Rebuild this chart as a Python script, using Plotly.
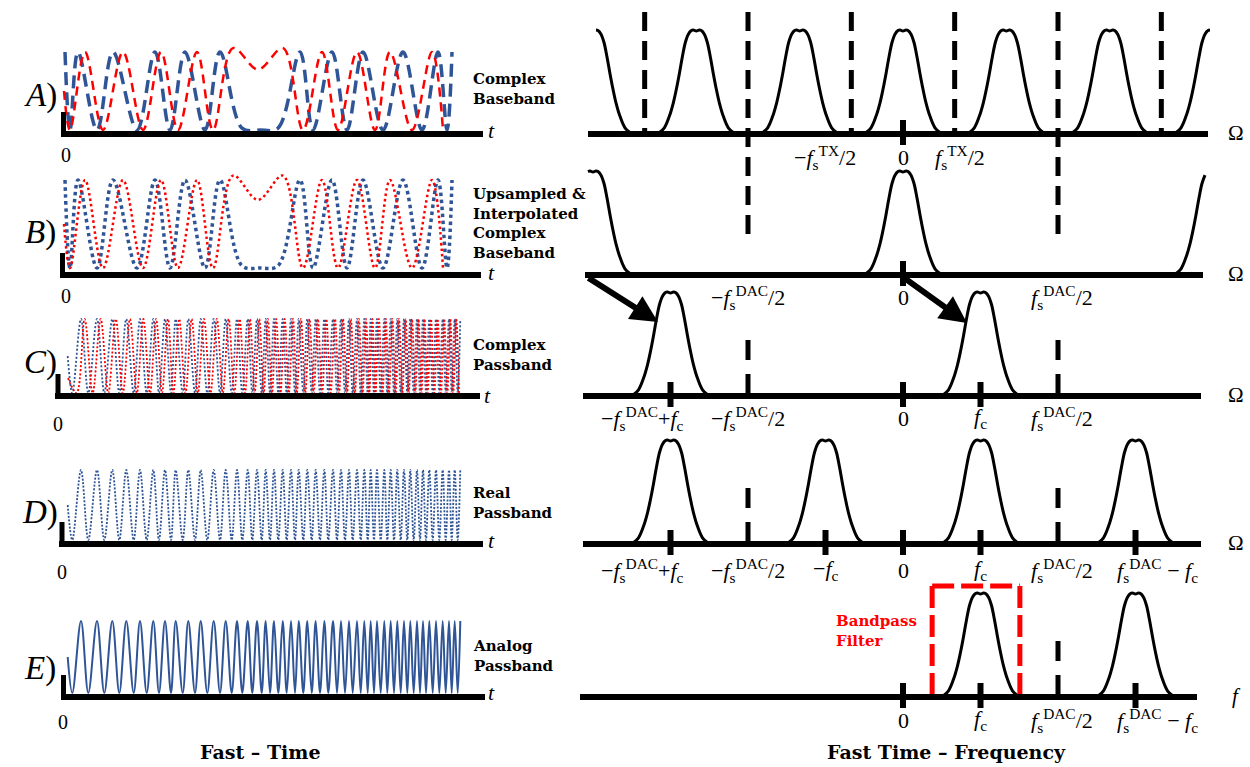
import plotly.graph_objects as go

# ======================= DATA =======================
# Complex baseband chirp (panels A and B): extremum times (samples) and levels
BB_I_T = [1, 6, 14, 33, 49, 73, 91, 106, 121, 141, 156, 178, 196, 214, 236, 249,
          268, 283, 299, 319, 339, 358, 374, 383, 388]
BB_I_V = [1, -1, 1, -1, 1, -1, 1, -1, 1, -1, 1, -0.95, -1, -0.95, 1, -1,
          1, -1, 1, -1, 1, -1, 1, -1, 1]
BB_Q_T = [0, 6, 21, 39, 59, 79, 97, 114, 133, 149, 169, 194, 219, 239, 258, 274,
          293, 311, 326, 348, 368, 379]
BB_Q_V = [0, -1, 1, -1, 1, -1, 1, -1, 1, -1, 1.1, 0.55, 1.1, -1, 1, -1,
          1, -1, 1, -1, 1, -1]

# Passband chirp (panels C, D, E): start point, peak times and trough times
PB_START = [3.7, 0.0]
PB_PEAK_T = [17, 33, 48.3, 62.3, 76, 89.3, 101, 111.7, 124.3, 136.7, 149.7, 161.7,
             173, 183.7, 193, 201.7, 210, 218.7, 227, 234.7, 243.3, 251.7, 260.3,
             269, 277, 285, 293, 300.3, 306.7, 313, 320.3, 326.7, 333.3, 340,
             346.3, 353, 359, 365.3, 372, 378.7, 385, 390.7, 396.3]
PB_TROUGH_T = [8.3, 24.3, 40.3, 55.3, 69.7, 82.7, 95, 107, 118.7, 131, 143.3, 156,
               167.7, 178.3, 188.3, 197.7, 206, 214.3, 222.7, 231, 239.3, 247.7,
               256, 264.3, 273, 281, 288.7, 296.7, 303.7, 310, 316.7, 323.3, 330,
               336.7, 343.3, 349.7, 356, 362, 368.7, 375.3, 381.7, 387.7, 393.7]
C_Q_START = [4.0, -0.6]

# Spectra, frequency in units of f_s^DAC
FS_TX = 1 / 3
FC = 0.25
PULSE_OFF = [0, 0.0097, 0.0161, 0.0258, 0.0355, 0.0452, 0.0548, 0.0645, 0.0742,
             0.0871, 0.1032, 0.1194, 0.1355]
PULSE_LVL = [0.99, 1.0, 0.995, 0.96, 0.88, 0.74, 0.58, 0.43, 0.30, 0.17, 0.06,
             0.015, 0.0]

A_CENTERS = [-3 * FS_TX, -2 * FS_TX, -FS_TX, 0, FS_TX, 2 * FS_TX, 3 * FS_TX]
B_CENTERS = [-1, 0, 1]
C_CENTERS = [FC - 1, FC]
D_CENTERS = [FC - 1, -FC, FC, 1 - FC]
E_CENTERS = [FC, 1 - FC]

A_DASH = [-5 * FS_TX / 2, -1.5 * FS_TX, -FS_TX / 2, FS_TX / 2, 1.5 * FS_TX, 5 * FS_TX / 2]
A_TICKS = [0]
B_TICKS = [0]
C_TICKS = [FC - 1, 0, FC]
D_TICKS = [FC - 1, -FC, 0, FC, 1 - FC]
E_TICKS = [0, FC, 1 - FC]
CDE_HALF = [-0.5, 0.5]
E_HALF = [0.5]
BPF = [0.094, 0.377]

A_LBL_POS = [-FS_TX / 2, 0, FS_TX / 2]
A_LBL = ["m_tx2", "0", "tx2"]
B_LBL_POS = [-0.5, 0, 0.5]
B_LBL = ["m_dac2", "0", "dac2"]
C_LBL_POS = [FC - 1, -0.5, 0, FC, 0.5]
C_LBL = ["m_dac_fc", "m_dac2", "0", "fc", "dac2"]
D_LBL_POS = [FC - 1, -0.5, -FC, 0, FC, 0.5, 1 - FC]
D_LBL = ["m_dac_fc", "m_dac2", "m_fc", "0", "fc", "dac2", "dac_m_fc"]
E_LBL_POS = [0, FC, 0.5, 1 - FC]
E_LBL = ["0", "fc", "dac2", "dac_m_fc"]

F = "<i>f</i>"
FSDAC = F + "<sub>s</sub><sup>DAC</sup>"
FSTX = F + "<sub>s</sub><sup>TX</sup>"
FCT = F + "<sub>c</sub>"
LBL_TXT = {
    "m_tx2": "\u2212" + FSTX + "/2", "tx2": FSTX + "/2", "0": "0",
    "m_dac2": "\u2212" + FSDAC + "/2", "dac2": FSDAC + "/2",
    "m_dac_fc": "\u2212" + FSDAC + "+" + FCT, "fc": FCT, "m_fc": "\u2212" + FCT,
    "dac_m_fc": FSDAC + " \u2212 " + FCT,
}
PANEL_LETTERS = ["A", "B", "C", "D", "E"]
PANEL_NAMES = ["Complex<br>Baseband", "Upsampled &amp;<br>Interpolated<br>Complex<br>Baseband",
               "Complex<br>Passband", "Real<br>Passband", "Analog<br>Passband"]

# ======================= LAYOUT CONSTANTS =======================
W, H = 1250, 767
LX0 = 64.0                  # pixel of t = 0
RX0, RS = 903.0, 310.0      # pixel of f = 0, pixels per f_s^DAC
BASE = [134, 275, 396, 544, 697]
LC = [91, 224, 356, 505, 657]
LA = [39, 44, 37, 35, 36]
RH = 104
LEFT_AX = [(61, 483), (60, 481), (55, 480), (59, 483), (61, 485)]
STUB_X = [63.5, 62.5, 58, 62, 63.5]
RIGHT_AX = [(588, 1208), (585, 1203), (583, 1201), (583, 1201), (580, 1197)]
PULSE_CLIP = [(594, 1212), (586, 1208), (583, 1201), (583, 1201), (580, 1197)]
LBL_Y = [157, 297, 418, 570, 720]
LBL_SHIFT = {"m_tx2": -26, "tx2": 5, "m_dac_fc": -28, "dac_m_fc": 22, "dac2": 4}
LETTER_Y = [95, 232, 362, 512, 668]
ZERO_XY = [(66, 155), (66, 296), (58, 424), (62, 572), (63, 722)]
T_XY = [(491, 131), (491, 272), (487, 395), (491, 540), (491, 692)]
NAME_Y = [89, 224, 355, 503, 656]
BLUE = "#2F5597"
RED = "#FF0000"
SERIF = "Liberation Serif, DejaVu Serif, serif"
BOLD_SERIF = "DejaVu Serif, Liberation Serif, serif"


def lx(px):
    return px - LX0


def rx(px):
    return (px - RX0) / RS


def ly(i, px):
    return (LC[i] - px) / LA[i]


def ry(i, px):
    return (BASE[i] - px) / RH


def LY(i):
    return "y" if i == 0 else f"y{i + 1}"


def RY(i):
    return f"y{i + 6}"


fig = go.Figure()

# ---------------- time-domain waveforms ----------------
def wave(xs, ys, i, color, width, dash):
    fig.add_trace(go.Scatter(x=xs, y=ys, xaxis="x", yaxis=LY(i), mode="lines",
                             line=dict(color=color, width=width, dash=dash,
                                       shape="spline", smoothing=1.0),
                             hoverinfo="skip"))


wave(BB_I_T, BB_I_V, 0, BLUE, 3.5, "13px,7px")
wave(BB_Q_T, BB_Q_V, 0, RED, 2.5, "9px,6px")
wave(BB_I_T, BB_I_V, 1, BLUE, 3.5, "3.5px,3.5px")
wave(BB_Q_T, BB_Q_V, 1, RED, 2.5, "2.5px,3px")

ext = sorted([(t, -1.0) for t in PB_TROUGH_T] + [(t, 1.0) for t in PB_PEAK_T])
pb_x = [PB_START[0]] + [e[0] for e in ext]
pb_y = [PB_START[1]] + [e[1] for e in ext]
q_x = [C_Q_START[0]] + [(ext[k][0] + ext[k + 1][0]) / 2 for k in range(len(ext) - 1)]
q_y = [C_Q_START[1]] + [ext[k][1] for k in range(len(ext) - 1)]

wave(pb_x, pb_y, 2, BLUE, 1.8, "2px,2px")
wave(q_x, q_y, 2, RED, 1.8, "2px,2px")
wave(pb_x, pb_y, 3, BLUE, 1.8, "2px,1.6px")
wave(pb_x, pb_y, 4, BLUE, 2.0, "solid")

# ---------------- spectra ----------------
def spectrum(centers, i):
    lo, hi = rx(PULSE_CLIP[i][0]), rx(PULSE_CLIP[i][1])
    xs, ys = [], []
    offs = [-o for o in PULSE_OFF[::-1]] + PULSE_OFF[1:]
    lvls = PULSE_LVL[::-1] + PULSE_LVL[1:]
    for c in centers:
        for o, v in zip(offs, lvls):
            if lo - 1e-9 <= c + o <= hi + 1e-9:
                xs.append(c + o)
                ys.append(v)
        xs.append(None)
        ys.append(None)
    fig.add_trace(go.Scatter(x=xs, y=ys, xaxis="x2", yaxis=RY(i), mode="lines",
                             line=dict(color="black", width=3, shape="spline", smoothing=1.0),
                             connectgaps=False, hoverinfo="skip"))


for i, cs in enumerate([A_CENTERS, B_CENTERS, C_CENTERS, D_CENTERS, E_CENTERS]):
    spectrum(cs, i)

# ---------------- shapes ----------------
shapes = []


def seg(xref, yref, x0, y0, x1, y1, width, color="black", dash="solid"):
    shapes.append(dict(type="line", xref=xref, yref=yref, x0=x0, y0=y0, x1=x1, y1=y1,
                       line=dict(color=color, width=width, dash=dash), layer="above"))


for i in range(5):
    # left time axes
    seg("x", LY(i), lx(LEFT_AX[i][0]), ly(i, BASE[i]), lx(LEFT_AX[i][1]), ly(i, BASE[i]), 6)
    seg("x", LY(i), lx(STUB_X[i]), ly(i, BASE[i] + 3), lx(STUB_X[i]), ly(i, BASE[i] - 22), 5)
    # right frequency axes
    seg("x2", RY(i), rx(RIGHT_AX[i][0]), 0, rx(RIGHT_AX[i][1]), 0, 6)

for i, tks in enumerate([A_TICKS, B_TICKS, C_TICKS, D_TICKS, E_TICKS]):
    for f in tks:
        seg("x2", RY(i), f, ry(i, BASE[i] + 11), f, ry(i, BASE[i] - 14), 6)

for f in A_DASH:
    bottom = ry(0, 242) if abs(abs(f) - 0.5) < 1e-6 else 0
    seg("x2", RY(0), f, ry(0, 12), f, bottom, 5, dash="19px,10px")

for i, halves in [(2, CDE_HALF), (3, CDE_HALF), (4, E_HALF)]:
    for f in halves:
        seg("x2", RY(i), f, ry(i, BASE[i] - 56), f, 0, 5, dash="20px,14px")

# band-pass filter (open rectangle)
top_bpf = ry(4, 586)
seg("x2", RY(4), BPF[0], top_bpf, BPF[0], ry(4, BASE[4] - 3), 5, RED, "22px,7px")
seg("x2", RY(4), BPF[0], top_bpf, BPF[1], top_bpf, 5, RED, "22px,7px")
seg("x2", RY(4), BPF[1], top_bpf, BPF[1], ry(4, BASE[4] - 3), 5, RED, "22px,7px")

# ---------------- annotations ----------------
ann = []


def text(x, y, s, size, xref="paper", yref="paper", xanchor="center", yanchor="middle",
         color="black", xshift=0, align="center", family=SERIF):
    ann.append(dict(x=x, y=y, xref=xref, yref=yref, text=s, showarrow=False,
                    font=dict(family=family, size=size, color=color), xanchor=xanchor,
                    yanchor=yanchor, xshift=xshift, align=align))


def px_paper(px, py):
    return px / W, 1 - py / H


for i in range(5):
    x, y = px_paper(40, LETTER_Y[i])
    text(x, y, f"<i>{PANEL_LETTERS[i]}</i>)", 33)
    x, y = px_paper(471, NAME_Y[i])
    text(x, y, "<b>" + PANEL_NAMES[i] + "</b>", 15, xanchor="left", align="left",
         family=BOLD_SERIF)
    x, y = px_paper(*ZERO_XY[i])
    text(x, y, "0", 20)
    x, y = px_paper(*T_XY[i])
    text(x, y, "<i>t</i>", 22)
    x, y = px_paper(1236, BASE[i] - 1)
    text(x, y, "<i>f</i>" if i == 4 else "\u03a9", 21)

for i, (pos, keys) in enumerate([(A_LBL_POS, A_LBL), (B_LBL_POS, B_LBL), (C_LBL_POS, C_LBL),
                                 (D_LBL_POS, D_LBL), (E_LBL_POS, E_LBL)]):
    for f, k in zip(pos, keys):
        text(f, ry(i, LBL_Y[i]), LBL_TXT[k], 22, xref="x2", yref=RY(i),
             xshift=LBL_SHIFT.get(k, 0))

x, y = px_paper(834, 631)
text(x, y, "<b>Bandpass<br>Filter</b>", 15, xanchor="left", align="left", color=RED,
     family=BOLD_SERIF)
x, y = px_paper(260, 752)
text(x, y, "<b>Fast \u2013 Time</b>", 19, family=BOLD_SERIF)
x, y = px_paper(946, 752)
text(x, y, "<b>Fast Time \u2013 Frequency</b>", 19, family=BOLD_SERIF)

# arrows from panel B to panel C
for tail_px, head_px in [((587, BASE[1] + 2), (658, 322)), ((903, BASE[1] + 2), (967, 323))]:
    ann.append(dict(x=rx(head_px[0]), y=ry(2, head_px[1]), ax=rx(tail_px[0]), ay=ry(2, tail_px[1]),
                    xref="x2", yref=RY(2), axref="x2", ayref=RY(2), text="", showarrow=True,
                    arrowhead=2, arrowsize=0.9, arrowwidth=6, arrowcolor="black", standoff=0))

# ---------------- layout ----------------
layout = dict(width=W, height=H, margin=dict(l=0, r=0, t=0, b=0), paper_bgcolor="white",
              plot_bgcolor="rgba(0,0,0,0)", showlegend=False, shapes=shapes, annotations=ann)
layout["xaxis"] = dict(domain=[0, 1], range=[lx(0), lx(W)], visible=False, fixedrange=True)
layout["xaxis2"] = dict(domain=[0, 1], range=[rx(0), rx(W)], visible=False, fixedrange=True,
                        anchor="y6")
for i in range(5):
    key = "yaxis" if i == 0 else f"yaxis{i + 1}"
    layout[key] = dict(domain=[0, 1], range=[ly(i, H), ly(i, 0)], visible=False,
                       anchor="x", fixedrange=True)
    layout[f"yaxis{i + 6}"] = dict(domain=[0, 1], range=[ry(i, H), ry(i, 0)], visible=False,
                                   anchor="x2", fixedrange=True)
fig.update_layout(**layout)
fig.write_html("out.html")
